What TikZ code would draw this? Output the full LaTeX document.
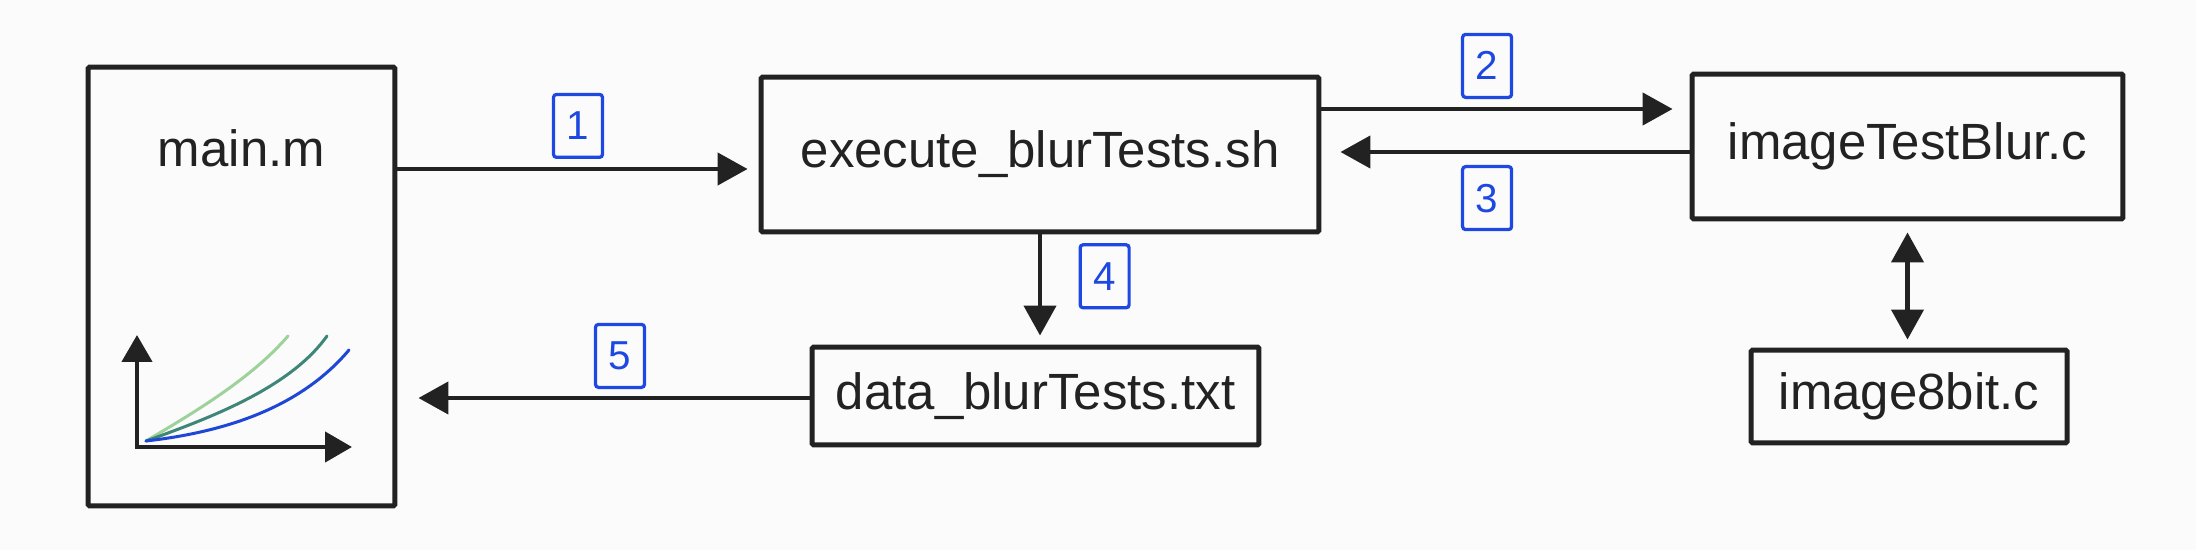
\documentclass[tikz,border=0pt]{standalone}
\usepackage{fontspec}
\setmainfont{Liberation Sans}
\usetikzlibrary{arrows.meta,positioning}
\definecolor{stepblue}{RGB}{29,72,226}
\definecolor{inkgray}{RGB}{34,34,34}
\definecolor{paper}{RGB}{251,251,251}
\definecolor{curvelight}{RGB}{158,210,155}
\definecolor{curveteal}{RGB}{62,135,120}
\definecolor{curveblue}{RGB}{30,70,215}

\begin{document}
\begin{tikzpicture}[x=0.02cm,y=-0.02cm,
	filebox/.style={
		draw=inkgray, line width=0.1cm, rounded corners=0.03cm,
		text=inkgray, inner sep=0pt,
		font=\fontsize{29}{35}\selectfont
	},
	flow/.style={
		draw=inkgray, line width=0.09cm,
		-{Triangle[length=0.6cm,width=0.64cm]}
	},
	stepno/.style={
		draw=stepblue, text=stepblue, line width=0.065cm,
		rounded corners=0.06cm, inner sep=0pt,
		minimum width=0.98cm, minimum height=1.26cm,
		font=\fontsize{23}{27}\selectfont
	},
	plotaxis/.style={
		draw=inkgray, line width=0.09cm,
		{Triangle[length=0.54cm,width=0.6cm]}-{Triangle[length=0.54cm,width=0.6cm]}
	},
	plotcurve/.style={line width=0.06cm, line cap=round}
]
	\useasboundingbox[fill=paper] (0,0) rectangle (2196,550);

	% the files
	\node[filebox, minimum width=6.14cm, minimum height=8.78cm] (main) at (241.5,286.5) {};
	\node[filebox, draw=none, anchor=base] (maintitle) at ([yshift=-2.04cm]main.north) {main.m};
	\node[filebox, minimum width=11.16cm, minimum height=3.1cm] (exec) at (1040,154.5) {execute\_blurTests.sh};
	\node[filebox, minimum width=8.62cm, minimum height=2.9cm] (blur) at (1907.5,146.5) {imageTestBlur.c};
	\node[filebox, minimum width=6.32cm, minimum height=1.86cm] (lib) at (1909,396.5) {image8bit.c};
	\node[filebox, minimum width=8.94cm, minimum height=1.96cm] (data) at (1035.5,396) {data\_blurTests.txt};

	% small plot inside main.m
	\draw[plotaxis] (137,335) -- (137,447) -- (352,447);
	\draw[plotcurve, curvelight] (146,441) .. controls (195,412) and (252,378) .. (288,336);
	\draw[plotcurve, curveteal] (146,441) .. controls (210,418) and (290,388) .. (327,336);
	\draw[plotcurve, curveblue] (146,441) .. controls (225,432) and (300,408) .. (349,350);

	% steps
	\draw[flow, shorten >=0.22cm] ([yshift=-0.29cm]main.east |- exec.west) -- node[stepno, above=0.2cm] {1} ([yshift=-0.29cm]exec.west);
	\draw[flow, shorten >=0.34cm] ([yshift=0.91cm]exec.east) -- node[stepno, pos=0.45, above=0.2cm] {2} ([yshift=0.91cm]exec.east -| blur.west);
	\draw[flow, shorten >=0.38cm] ([yshift=-0.11cm]blur.west) -- node[stepno, pos=0.55, below=0.26cm] {3} ([yshift=-0.11cm]blur.west -| exec.east);
	\draw[flow, shorten >=0.18cm] (exec.south) -- node[stepno, pos=0.38, right=0.77cm] {4} (exec.south |- data.north);
	\draw[flow, shorten >=0.42cm] ([yshift=-0.04cm]data.west) -- node[stepno, pos=0.46, above=0.18cm] {5} ([yshift=-0.04cm]data.west -| main.east);
	\draw[flow, {Triangle[length=0.6cm,width=0.64cm]}-{Triangle[length=0.6cm,width=0.64cm]}, shorten <=0.22cm, shorten >=0.16cm] (blur.south) -- (blur.south |- lib.north);
\end{tikzpicture}
\end{document}
